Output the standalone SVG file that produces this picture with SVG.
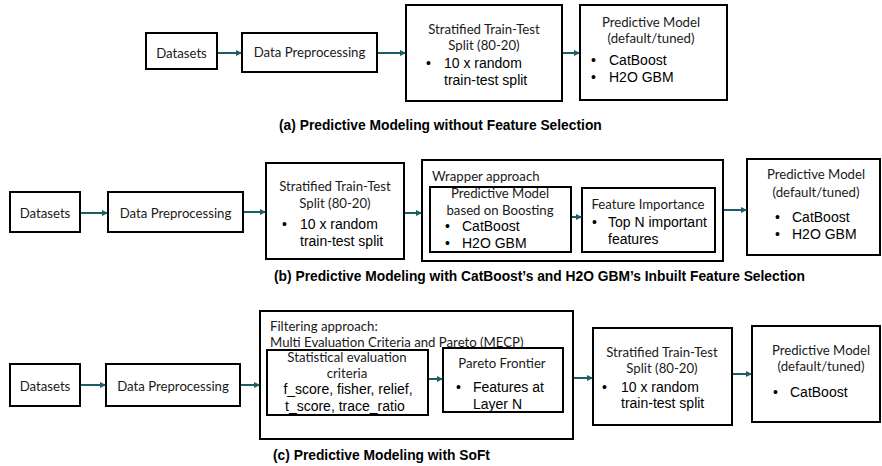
<svg xmlns="http://www.w3.org/2000/svg" width="882" height="466" viewBox="0 0 882 466">
<style>
.box{fill:#fff;stroke:#000;stroke-width:2}
.c{font-family:Lato,"Open Sans",sans-serif;font-size:13.2px;fill:#1a1a1a}
.a{font-family:"Liberation Sans",Arial,sans-serif;font-size:14px;fill:#000}
.m{text-anchor:middle}
.cap{font-family:"Liberation Sans",Arial,sans-serif;font-weight:bold;font-size:13.8px;fill:#000}
.conn{stroke:#1d5e66;stroke-width:2;fill:none;marker-end:url(#ah)}
</style>
<defs>
<marker id="ah" markerWidth="6" markerHeight="6" refX="5" refY="3" orient="auto" markerUnits="userSpaceOnUse">
<path d="M0,0 L6,3 L0,6 z" fill="#1d5e66"/>
</marker>
</defs>
<rect width="882" height="466" fill="#fff"/>

<!-- Row (a) -->
<g id="a-datasets"><rect class="box" x="146" y="33" width="71" height="36"/><text class="c m" x="181.5" y="57.5">Datasets</text></g>
<g id="a-preproc"><rect class="box" x="242" y="33" width="135" height="39"/><text class="c m" x="309.5" y="57">Data Preprocessing</text></g>
<g id="a-split"><rect class="box" x="406" y="5" width="156" height="96"/>
<text class="c m" x="484" y="33.5">Stratified Train-Test</text>
<text class="c m" x="484" y="49.5">Split (80-20)</text>
<text class="a" x="426" y="68">•</text><text class="a" x="444" y="68">10 x random</text>
<text class="a" x="444" y="85">train-test split</text></g>
<g id="a-model"><rect class="box" x="580" y="5" width="147" height="95"/>
<text class="c m" x="651" y="26.5">Predictive Model</text>
<text class="c m" x="651" y="42.5">(default/tuned)</text>
<text class="a" x="591" y="65">•</text><text class="a" x="609" y="65">CatBoost</text>
<text class="a" x="591" y="82">•</text><text class="a" x="609" y="82">H2O GBM</text></g>
<text class="cap" x="279" y="130">(a) Predictive Modeling without Feature Selection</text>

<!-- Row (b) -->
<g id="b-datasets"><rect class="box" x="10" y="192" width="70" height="40"/><text class="c m" x="45" y="217.5">Datasets</text></g>
<g id="b-preproc"><rect class="box" x="108" y="192" width="135" height="40"/><text class="c m" x="175.5" y="217.5">Data Preprocessing</text></g>
<g id="b-split"><rect class="box" x="266" y="163" width="138" height="96"/>
<text class="c m" x="335" y="190.5">Stratified Train-Test</text>
<text class="c m" x="335" y="207.5">Split (80-20)</text>
<text class="a" x="282" y="229">•</text><text class="a" x="300" y="229">10 x random</text>
<text class="a" x="300" y="246">train-test split</text></g>
<g id="b-wrapper"><rect class="box" x="422" y="160" width="301" height="101"/>
<text class="c" x="432" y="180.5">Wrapper approach</text></g>
<g id="b-boost"><rect class="box" x="430" y="187" width="141" height="65"/>
<text class="c m" x="500" y="198">Predictive Model</text>
<text class="c m" x="500" y="215">based on Boosting</text>
<text class="a" x="445" y="231">•</text><text class="a" x="462" y="231">CatBoost</text>
<text class="a" x="445" y="248">•</text><text class="a" x="462" y="248">H2O GBM</text></g>
<g id="b-importance"><rect class="box" x="582" y="188" width="133" height="64"/>
<text class="c m" x="648" y="208.5">Feature Importance</text>
<text class="a" x="592" y="227">•</text><text class="a" x="608" y="227">Top N important</text>
<text class="a" x="608" y="244">features</text></g>
<g id="b-model"><rect class="box" x="747" y="159" width="133" height="96"/>
<text class="c m" x="816" y="178.5">Predictive Model</text>
<text class="c m" x="816" y="196.5">(default/tuned)</text>
<text class="a" x="775" y="222">•</text><text class="a" x="792" y="222">CatBoost</text>
<text class="a" x="775" y="239">•</text><text class="a" x="792" y="239">H2O GBM</text></g>
<text class="cap" x="274" y="281">(b) Predictive Modeling with CatBoost’s and H2O GBM’s Inbuilt Feature Selection</text>

<!-- Row (c) -->
<g id="c-datasets"><rect class="box" x="10" y="364" width="70" height="42"/><text class="c m" x="45" y="390.5">Datasets</text></g>
<g id="c-preproc"><rect class="box" x="106" y="364" width="134" height="42"/><text class="c m" x="173" y="390.5">Data Preprocessing</text></g>
<g id="c-filter"><rect class="box" x="260" y="311" width="313" height="128"/>
<text class="c" x="270" y="330.5">Filtering approach:</text>
<text class="c" x="270" y="346.5">Multi Evaluation Criteria and Pareto (MECP)</text></g>
<g id="c-stat"><rect class="box" x="267" y="350" width="161" height="65"/>
<text class="c m" x="347" y="362">Statistical evaluation</text>
<text class="c m" x="347" y="378">criteria</text>
<text class="a m" x="348" y="394">f_score, fisher, relief,</text>
<text class="a" x="285" y="411">t_score, trace_ratio</text></g>
<g id="c-pareto"><rect class="box" x="443" y="348" width="120" height="64"/>
<text class="c m" x="502" y="367.5">Pareto Frontier</text>
<text class="a" x="456" y="392">•</text><text class="a" x="473" y="392">Features at</text>
<text class="a" x="473" y="409">Layer N</text></g>
<g id="c-split"><rect class="box" x="593" y="328" width="139" height="97"/>
<text class="c m" x="662" y="356.5">Stratified Train-Test</text>
<text class="c m" x="662" y="372.5">Split (80-20)</text>
<text class="a" x="602" y="392">•</text><text class="a" x="621" y="392">10 x random</text>
<text class="a" x="621" y="408">train-test split</text></g>
<g id="c-model"><rect class="box" x="752" y="326" width="128" height="96"/>
<text class="c m" x="821" y="354.5">Predictive Model</text>
<text class="c m" x="821" y="370.5">(default/tuned)</text>
<text class="a" x="773" y="397">•</text><text class="a" x="790" y="397">CatBoost</text></g>
<text class="cap" x="273" y="460">(c) Predictive Modeling with SoFt</text>

<g id="connectors">
<line class="conn" x1="218" y1="53" x2="241" y2="53"/>
<line class="conn" x1="378" y1="53" x2="405" y2="53"/>
<line class="conn" x1="563" y1="53" x2="579" y2="53"/>
<line class="conn" x1="81" y1="213" x2="107" y2="213"/>
<line class="conn" x1="244" y1="212" x2="265" y2="212"/>
<line class="conn" x1="405" y1="213" x2="421" y2="213"/>
<line class="conn" x1="572" y1="217" x2="581" y2="217"/>
<line class="conn" x1="724" y1="210" x2="746" y2="210"/>
<line class="conn" x1="81" y1="385" x2="105" y2="385"/>
<line class="conn" x1="241" y1="385" x2="259" y2="385"/>
<line class="conn" x1="429" y1="379" x2="442" y2="379"/>
<line class="conn" x1="574" y1="378" x2="592" y2="378"/>
<line class="conn" x1="733" y1="374" x2="751" y2="374"/>
</g>
</svg>
